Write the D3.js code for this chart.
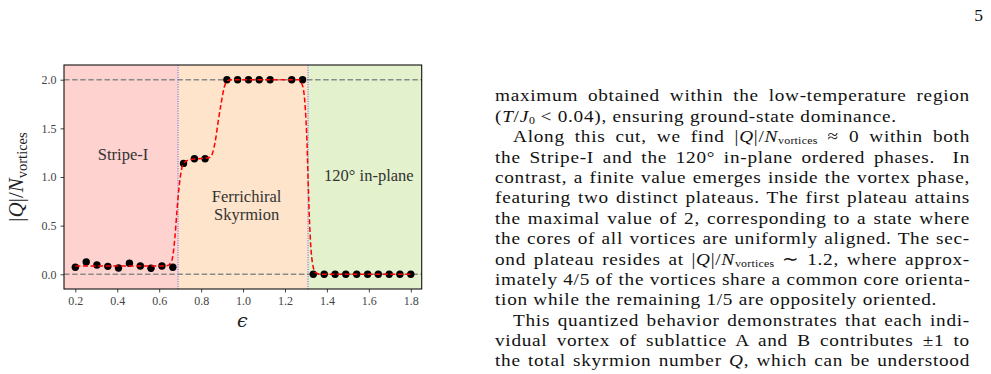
<!DOCTYPE html>
<html>
<head>
<meta charset="utf-8">
<script src="https://cdn.jsdelivr.net/npm/d3@7"></script>
<style>
  html, body { margin: 0; padding: 0; background: #fff; }
  body { width: 991px; height: 374px; position: relative; overflow: hidden; }
  svg { position: absolute; left: 0; top: 0; }
  .para { position: absolute; left: 495px; width: 431.8px; font-family: "Liberation Serif", "Times New Roman", serif;
          font-size: 17.5px; letter-spacing: 0.65px; color: #111; transform: scaleX(1.1); transform-origin: 0 0; }
  .ln { height: 20.4px; line-height: 20.4px; white-space: nowrap; text-align: justify; text-align-last: justify; }
  .ln.last { text-align: left; text-align-last: left; }
  .ln.ind { text-indent: 16.4px; }
  .ln sub { font-size: 62%; line-height: 0; vertical-align: -2.3px; letter-spacing: 0.2px; }
  .pg { position: absolute; right: 8px; top: 5px; font-family: "Liberation Serif", serif; font-size: 17.5px; color: #111; }
</style>
</head>
<body>
<script>
// ---------- data ----------
const epsilon = [0.200, 0.252, 0.303, 0.355, 0.406, 0.458, 0.510, 0.561, 0.613, 0.665,
                 0.716, 0.768, 0.819,
                 0.923, 0.974, 1.026, 1.077, 1.129, 1.232, 1.284,
                 1.335, 1.387, 1.439, 1.490, 1.542, 1.594, 1.645, 1.697, 1.748, 1.800];
const qPerVortex = [0.072, 0.126, 0.096, 0.082, 0.065, 0.113, 0.085, 0.062, 0.085, 0.072,
                    1.14, 1.188, 1.188,
                    2.0, 2.0, 2.0, 2.0, 2.0, 2.0, 2.0,
                    0, 0, 0, 0, 0, 0, 0, 0, 0, 0];
const fitEpsilon = [0.20, 0.40, 0.60, 0.64, 0.66, 0.675, 0.685, 0.695, 0.705, 0.72, 0.75, 0.80, 0.84,
                    0.855, 0.87, 0.88, 0.895, 0.91, 0.925, 0.95, 1.10, 1.265, 1.285, 1.297, 1.305,
                    1.312, 1.32, 1.33, 1.345, 1.37, 1.80];
const fitQ = [0.085, 0.085, 0.085, 0.09, 0.14, 0.38, 0.66, 0.90, 1.06, 1.15, 1.18, 1.19, 1.20,
              1.25, 1.40, 1.55, 1.75, 1.92, 1.99, 2.0, 2.0, 2.0, 1.93, 1.7, 1.35,
              0.85, 0.4, 0.13, 0.02, 0.0, 0.0];
const phaseBounds = [0.69, 1.31];
const xTickValues = [0.2, 0.4, 0.6, 0.8, 1.0, 1.2, 1.4, 1.6, 1.8];
const yTickValues = [0.0, 0.5, 1.0, 1.5, 2.0];
const refLines = [0, 2];
const xDomain = [0.146, 1.852];
const yDomain = [-0.151, 2.151];

const paragraphLines = [
  {h: "maximum obtained within the low-temperature region"},
  {h: "(<i>T</i>/<i>J</i><sub>0</sub> &lt; 0.04), ensuring ground-state dominance.", last: true},
  {h: "Along this cut, we find |<i>Q</i>|/<i>N</i><sub>vortices</sub> &#8776; 0 within both", ind: true},
  {h: "the Stripe-I and the 120&#176; in-plane ordered phases. &nbsp;In"},
  {h: "contrast, a finite value emerges inside the vortex phase,"},
  {h: "featuring two distinct plateaus. The first plateau attains"},
  {h: "the maximal value of 2, corresponding to a state where"},
  {h: "the cores of all vortices are uniformly aligned. The sec-"},
  {h: "ond plateau resides at |<i>Q</i>|/<i>N</i><sub>vortices</sub> &#8764; 1.2, where approx-"},
  {h: "imately 4/5 of the vortices share a common core orienta-"},
  {h: "tion while the remaining 1/5 are oppositely oriented.", last: true},
  {h: "This quantized behavior demonstrates that each indi-", ind: true},
  {h: "vidual vortex of sublattice A and B contributes &#177;1 to"},
  {h: "the total skyrmion number <i>Q</i>, which can be understood"}
];

// ---------- chart ----------
const W = 991, H = 374;
const plot = {left: 64, right: 421.7, top: 65, bottom: 289};
const svg = d3.select("body").append("svg").attr("width", W).attr("height", H);

const x = d3.scaleLinear().domain(xDomain).range([plot.left, plot.right]);
const y = d3.scaleLinear().domain(yDomain).range([plot.bottom, plot.top]);

const serif = "'Liberation Serif', 'Times New Roman', serif";

// phase regions
const regions = [
  {x0: xDomain[0], x1: phaseBounds[0], fill: "#fed2cf"},
  {x0: phaseBounds[0], x1: phaseBounds[1], fill: "#fde4ca"},
  {x0: phaseBounds[1], x1: xDomain[1], fill: "#e3f1cc"}
];
svg.append("g").selectAll("rect").data(regions).join("rect")
  .attr("x", d => x(d.x0)).attr("width", d => x(d.x1) - x(d.x0))
  .attr("y", plot.top).attr("height", plot.bottom - plot.top)
  .attr("fill", d => d.fill);

// reference dashed lines
svg.append("g").selectAll("line").data(refLines).join("line")
  .attr("x1", plot.left).attr("x2", plot.right)
  .attr("y1", d => y(d)).attr("y2", d => y(d))
  .attr("stroke", "#8a8a8a").attr("stroke-width", 1.5).attr("stroke-dasharray", "5.5,2.6");

// phase boundaries
svg.append("g").selectAll("line").data(phaseBounds).join("line")
  .attr("x1", d => x(d)).attr("x2", d => x(d))
  .attr("y1", plot.top).attr("y2", plot.bottom)
  .attr("stroke", "#5d57f2").attr("stroke-width", 1).attr("stroke-dasharray", "1,1.4");

// data points
const pts = epsilon.map((e, i) => ({e, q: qPerVortex[i]}));
svg.append("g").selectAll("circle").data(pts).join("circle")
  .attr("cx", d => x(d.e)).attr("cy", d => y(d.q)).attr("r", 3.7)
  .attr("fill", "#000");

// fit curve
const fit = fitEpsilon.map((e, i) => [e, fitQ[i]]);
svg.append("path").datum(fit)
  .attr("d", d3.line().x(d => x(d[0])).y(d => y(d[1])).curve(d3.curveMonotoneX))
  .attr("fill", "none").attr("stroke", "#ff0000").attr("stroke-width", 1.5)
  .attr("stroke-dasharray", "5,2.6");

// axes
const xAxis = svg.append("g").attr("transform", `translate(0,${plot.bottom})`)
  .call(d3.axisBottom(x).tickValues(xTickValues).tickFormat(d3.format(".1f")).tickSizeOuter(0).tickSize(3.5).tickPadding(4));
const yAxis = svg.append("g").attr("transform", `translate(${plot.left},0)`)
  .call(d3.axisLeft(y).tickValues(yTickValues).tickFormat(d3.format(".1f")).tickSizeOuter(0).tickSize(3.5).tickPadding(4));
[xAxis, yAxis].forEach(g => {
  g.attr("font-family", serif).attr("font-size", 12);
  g.select(".domain").remove();
  g.selectAll(".tick line").attr("stroke", "#333").attr("stroke-width", 0.9);
  g.selectAll(".tick text").attr("fill", "#444");
});

// frame
svg.append("rect").attr("x", plot.left).attr("y", plot.top)
  .attr("width", plot.right - plot.left).attr("height", plot.bottom - plot.top)
  .attr("fill", "none").attr("stroke", "#111").attr("stroke-width", 1.1);

// region labels
const lab = svg.append("g").attr("font-family", serif).attr("font-size", 16.5).attr("fill", "#333").attr("text-anchor", "middle");
lab.append("text").attr("x", x(0.4275)).attr("y", y(1.175)).text("Stripe-I");
lab.append("text").attr("x", x(1.017)).attr("y", y(0.745)).text("Ferrichiral");
lab.append("text").attr("x", x(1.017)).attr("y", y(0.557)).text("Skyrmion");
lab.append("text").attr("x", x(1.60)).attr("y", y(0.954)).text("120\u00B0 in-plane");

// axis labels
svg.append("text").attr("x", (plot.left + plot.right) / 2 - 0.5).attr("y", 327)
  .attr("text-anchor", "middle").attr("font-family", "'DejaVu Serif', serif").attr("font-style", "italic")
  .attr("font-size", 19).attr("fill", "#222").text("\u03F5");

const yl = svg.append("text").attr("transform", `translate(23,${(plot.top + plot.bottom) / 2}) rotate(-90)`)
  .attr("text-anchor", "middle").attr("font-family", serif).attr("font-size", 21).attr("fill", "#222");
yl.append("tspan").text("|");
yl.append("tspan").attr("font-style", "italic").text("Q");
yl.append("tspan").text("|/");
yl.append("tspan").attr("font-style", "italic").text("N");
yl.append("tspan").attr("font-size", 14.5).attr("dy", 4).text("vortices");

// ---------- text column ----------
d3.select("body").append("div").attr("class", "pg").text("5");
const para = d3.select("body").append("div").attr("class", "para").style("top", "85.4px");
para.selectAll("div").data(paragraphLines).join("div")
  .attr("class", d => "ln" + (d.last ? " last" : "") + (d.ind ? " ind" : ""))
  .html(d => d.h);
</script>
</body>
</html>
